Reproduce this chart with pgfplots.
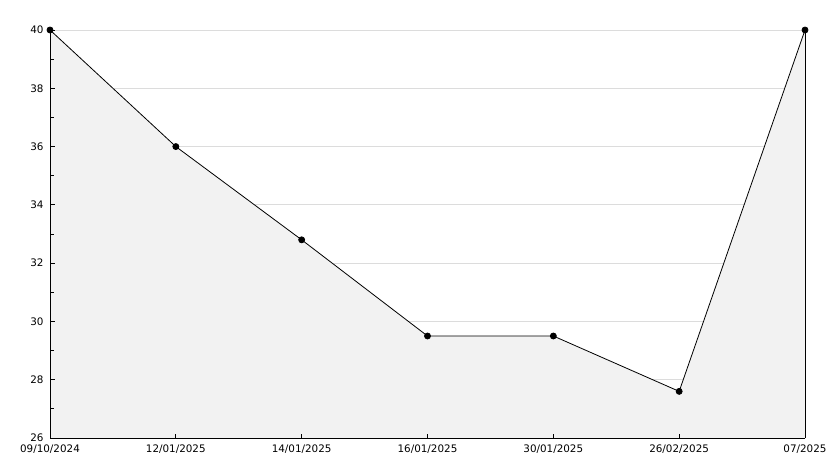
\documentclass[border=0pt]{standalone}
\usepackage{fontspec}
\setmainfont{DejaVu Sans}
\usepackage{pgfplots}
\pgfplotsset{compat=1.18}
\definecolor{fillgray}{HTML}{F2F2F2}
\definecolor{gridgray}{HTML}{DCDCDC}
\begin{document}
\begin{tikzpicture}
\path[use as bounding box] (-50bp,-30bp) rectangle (784bp,438bp);
\begin{axis}[
  at={(0,0)}, anchor=south west,
  scale only axis, width=755bp, height=408bp,
  xmin=0, xmax=6, ymin=26, ymax=40,
  axis on top,
  axis x line=bottom, axis y line=left,
  axis line style={-, line width=0.9bp, black},
  xtick={0,...,6},
  xticklabels={09/10/2024,12/01/2025,14/01/2025,16/01/2025,30/01/2025,26/02/2025,07/2025},
  ytick={26,28,...,40},
  minor ytick={27,29,...,39},
  tick align=inside,
  major tick length=4.5bp, minor tick length=4bp,
  tick style={black, line width=0.9bp},
  tick label style={font=\fontsize{10.4}{12}\selectfont},
  /pgf/number format/assume math mode=true,
  yticklabel style={xshift=-3bp},
  xticklabel style={yshift=-3.5bp},
  clip=false,
]
\foreach \yy in {28,30,...,40} {
  \edef\temp{\noexpand\draw[gridgray, line width=0.8bp] (axis cs:0,\yy) -- (axis cs:6,\yy);}
  \temp
}
\addplot[draw=none, fill=fillgray] coordinates {(0,40) (1,36) (2,32.8) (3,29.5) (4,29.5) (5,27.6) (6,40)} \closedcycle;
\addplot[black, line width=0.8bp, mark=*, mark size=3bp, mark options={fill=black}] coordinates {(0,40) (1,36) (2,32.8) (3,29.5) (4,29.5) (5,27.6) (6,40)};
\draw[black, line width=0.9bp] (rel axis cs:1,0) -- (rel axis cs:1,1);
\end{axis}
\end{tikzpicture}
\end{document}
